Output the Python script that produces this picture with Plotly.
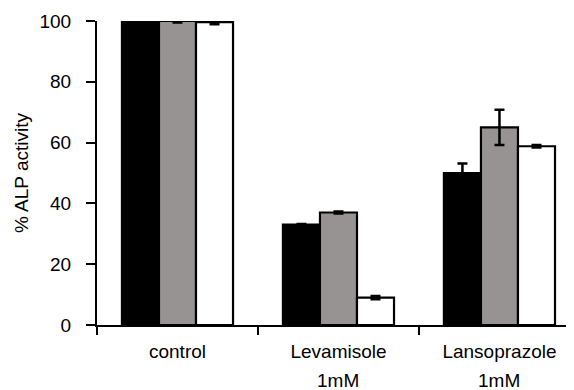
import plotly.graph_objects as go

categories = ["control", "Levamisole", "Lansoprazole"]
sub_labels = ["", "1mM", "1mM"]
series_names = ["Series 1", "Series 2", "Series 3"]
black_vals = [100, 33, 50]
black_err = [0.3, 0.2, 3.1]
gray_vals = [100, 37, 65]
gray_err = [0.5, 0.3, 5.8]
white_vals = [99.6, 9, 58.8]
white_err = [0.7, 0.5, 0.4]
colors = ["#000000", "#979393", "#ffffff"]
y_ticks = [0, 20, 40, 60, 80, 100]

fig = go.Figure()
for name, vals, errs, col in zip(series_names,
                                 [black_vals, gray_vals, white_vals],
                                 [black_err, gray_err, white_err], colors):
    fig.add_trace(go.Bar(
        x=categories, y=vals, name=name,
        marker=dict(color=col, line=dict(color="#000000", width=2.2)),
        error_y=dict(type="data", array=errs, visible=True,
                     color="#000000", thickness=2.5, width=5),
        showlegend=False,
    ))

for cat, sub in zip(categories, sub_labels):
    if sub:
        fig.add_annotation(x=cat, xref="x", y=0, yref="paper", text=sub,
                           showarrow=False, yanchor="middle", yshift=-55,
                           font=dict(size=19, color="#000000"))

fig.update_layout(
    width=566, height=382,
    margin=dict(l=89, r=0, t=13, b=65),
    plot_bgcolor="white", paper_bgcolor="white",
    barmode="group", bargap=0.31, bargroupgap=0,
    font=dict(family="Liberation Sans, Arial, sans-serif", size=19, color="#000000"),
)
fig.update_xaxes(
    type="category", range=[-0.5, 2.463],
    showline=True, linecolor="#000000", linewidth=2.2,
    ticks="outside", tickson="boundaries", ticklen=8, tickwidth=2.2, tickcolor="#000000",
    showgrid=False, zeroline=False,
    tickfont=dict(size=19), ticklabelstandoff=8,
)
fig.update_yaxes(
    range=[0, 100], tickvals=y_ticks,
    showline=True, linecolor="#000000", linewidth=2.2,
    ticks="outside", ticklen=9, tickwidth=2.2, tickcolor="#000000",
    showgrid=False, zeroline=False,
    tickfont=dict(size=19), ticklabelstandoff=11,
    title=dict(text="% ALP activity", font=dict(size=19), standoff=6),
)

fig.write_html("out.html")
